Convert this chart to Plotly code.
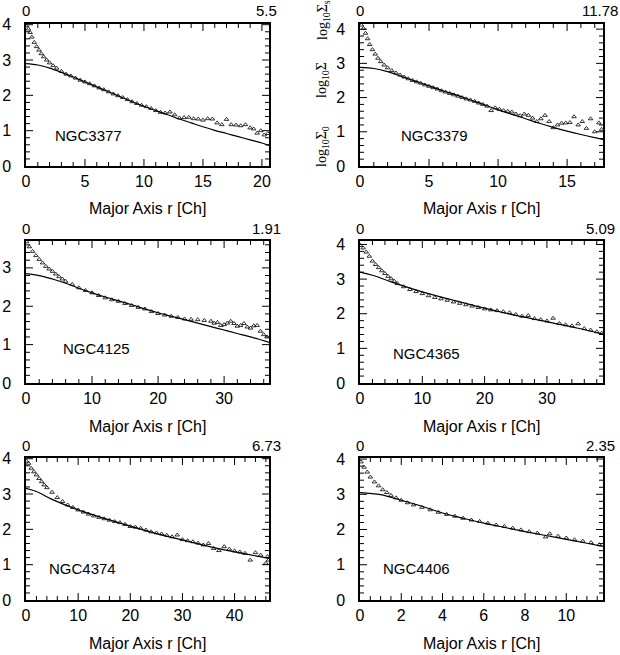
import numpy as np
import plotly.graph_objects as go

names = ["NGC3377", "NGC3379", "NGC4125", "NGC4365", "NGC4374", "NGC4406"]
top_scale = ["5.5", "11.78", "1.91", "5.09", "6.73", "2.35"]
x_max = [20.6, 17.6, 36.8, 39.0, 46.6, 11.78]
y_max = [4.02, 4.15, 3.7, 4.1, 4.02, 4.03]
x_dtick = [5, 5, 10, 10, 10, 2]
x_minor = [1, 1, 2, 2, 2, 0.5]
y_dtick = 1
y_minor = 0.2

# ---- NGC3377 ----
d1_r = [0.05, 0.2, 0.35, 0.5, 0.7, 0.9, 1.1, 1.3, 1.5, 1.75, 2.0, 2.3, 2.6, 3.0, 3.4, 3.8, 4.2, 4.6,
        5.0, 5.4, 5.8, 6.2, 6.6, 7.0, 7.4, 7.8, 8.2, 8.6, 9.0, 9.4, 9.8, 10.2, 10.6, 11.0, 11.4, 11.8,
        12.2, 12.6, 13.0, 13.4, 13.8, 14.2, 14.6, 15.0, 15.4, 15.8, 16.2, 16.6, 17.0, 17.4, 17.8, 18.2,
        18.6, 19.0, 19.3, 19.6, 19.9, 20.2, 20.5]
d1_s = [3.97, 3.88, 3.78, 3.65, 3.5, 3.38, 3.28, 3.18, 3.09, 3.0, 2.92, 2.84, 2.77, 2.68, 2.6, 2.55, 2.49, 2.43,
        2.38, 2.33, 2.27, 2.21, 2.16, 2.1, 2.04, 1.99, 1.94, 1.88, 1.82, 1.77, 1.72, 1.68, 1.63, 1.57, 1.52, 1.5,
        1.53, 1.45, 1.36, 1.37, 1.38, 1.34, 1.33, 1.3, 1.34, 1.33, 1.22, 1.17, 1.32, 1.17, 1.16, 1.14,
        1.17, 1.08, 1.05, 0.93, 1.0, 0.88, 0.92]
m1_r = [0, 1, 2, 3, 4, 5, 6, 7, 8, 9, 10, 11, 12, 13, 14, 15, 16, 17, 18, 19, 20, 20.6]
m1_s = [2.9, 2.86, 2.77, 2.65, 2.52, 2.38, 2.24, 2.1, 1.96, 1.82, 1.69, 1.57, 1.45, 1.33, 1.22, 1.11,
        1.01, 0.92, 0.83, 0.74, 0.65, 0.58]

# ---- NGC3379 ----
d2_r = [0.1, 0.25, 0.4, 0.55, 0.7, 0.9, 1.1, 1.3, 1.5, 1.75, 2.0, 2.3, 2.6, 2.9, 3.2, 3.5, 3.8, 4.1, 4.4,
        4.7, 5.0, 5.3, 5.6, 5.9, 6.2, 6.5, 6.8, 7.1, 7.4, 7.7, 8.0, 8.3, 8.6, 8.9, 9.2, 9.5, 9.8, 10.1,
        10.4, 10.7, 11.0, 11.3, 11.6, 11.9, 12.2, 12.5, 12.8, 13.1, 13.4, 13.7, 14.0, 14.3, 14.6, 14.9,
        15.2, 15.5, 15.8, 16.1, 16.4, 16.7, 17.0, 17.3, 17.5]
d2_s = [4.12, 4.02, 3.88, 3.72, 3.55, 3.4, 3.27, 3.15, 3.05, 2.95, 2.87, 2.79, 2.72, 2.66, 2.6, 2.55, 2.5, 2.46, 2.42,
        2.37, 2.33, 2.29, 2.25, 2.2, 2.16, 2.12, 2.08, 2.04, 2.0, 1.96, 1.93, 1.89, 1.84, 1.8, 1.75, 1.62, 1.7, 1.66,
        1.62, 1.6, 1.58, 1.52, 1.47, 1.52, 1.48, 1.4, 1.3, 1.38, 1.48, 1.3, 1.12, 1.2, 1.25, 1.26,
        1.27, 1.44, 1.2, 1.3, 1.1, 1.38, 1.0, 1.26, 1.07]
m2_r = [0, 1, 2, 3, 4, 5, 6, 7, 8, 9, 10, 11, 12, 13, 14, 15, 16, 17, 17.6]
m2_s = [2.88, 2.85, 2.76, 2.62, 2.48, 2.34, 2.2, 2.07, 1.93, 1.79, 1.64, 1.51, 1.38, 1.25, 1.13, 1.02,
        0.92, 0.83, 0.78]

# ---- NGC4125 ----
d3_r = [0.1, 0.5, 1.0, 1.5, 2.0, 2.5, 3.0, 3.5, 4.0, 4.5, 5.0, 5.5, 6.0, 7.0, 8.0, 9.0, 10.0, 11.0, 12.0,
        13.0, 14.0, 15.0, 16.0, 17.0, 18.0, 19.0, 20.0, 21.0, 22.0, 23.0, 24.0, 25.0, 26.0, 27.0, 28.0,
        28.5, 29.0, 29.5, 30.0, 30.5, 31.0, 31.5, 32.0, 32.5, 33.0, 33.5, 34.0, 34.5, 35.0, 35.5, 36.0, 36.5]
d3_s = [3.68, 3.55, 3.43, 3.32, 3.22, 3.13, 3.04, 2.97, 2.91, 2.84, 2.77, 2.71, 2.65, 2.57, 2.48, 2.41, 2.35, 2.28, 2.22,
        2.17, 2.13, 2.07, 2.02, 1.97, 1.93, 1.86, 1.81, 1.77, 1.74, 1.71, 1.67, 1.66, 1.65, 1.63, 1.61,
        1.56, 1.58, 1.5, 1.52, 1.56, 1.61, 1.55, 1.48, 1.5, 1.55, 1.46, 1.43, 1.49, 1.5, 1.35, 1.26, 1.2]
m3_r = [0, 2, 4, 6, 8, 10, 12, 14, 16, 18, 20, 22, 24, 26, 28, 30, 32, 34, 36.8]
m3_s = [2.85, 2.8, 2.71, 2.6, 2.47, 2.35, 2.24, 2.14, 2.04, 1.93, 1.83, 1.74, 1.65, 1.56, 1.47, 1.38,
        1.29, 1.2, 1.06]

# ---- NGC4365 ----
d4_r = [0.1, 0.5, 1.0, 1.5, 2.0, 2.5, 3.0, 3.5, 4.0, 4.5, 5.0, 5.5, 6.0, 7.0, 8.0, 9.0, 10.0, 11.0, 12.0,
        13.0, 14.0, 15.0, 16.0, 17.0, 18.0, 19.0, 20.0, 21.0, 22.0, 23.0, 24.0, 25.0, 26.0, 27.0, 28.0,
        29.0, 30.0, 31.0, 32.0, 33.0, 34.0, 35.0, 36.0, 37.0, 38.0, 38.8]
d4_s = [3.97, 3.9, 3.78, 3.66, 3.52, 3.42, 3.33, 3.24, 3.16, 3.08, 3.01, 2.94, 2.87, 2.78, 2.7, 2.64, 2.58, 2.52, 2.47,
        2.43, 2.39, 2.34, 2.3, 2.26, 2.22, 2.18, 2.14, 2.11, 2.09, 2.06, 2.03, 1.98, 1.93, 1.95, 1.86,
        1.83, 1.79, 1.87, 1.72, 1.68, 1.65, 1.71, 1.57, 1.53, 1.48, 1.44]
m4_r = [0, 2, 5, 10, 15, 20, 25, 30, 35, 39]
m4_s = [3.2, 3.11, 2.92, 2.63, 2.39, 2.16, 1.95, 1.77, 1.58, 1.41]

# ---- NGC4374 ----
d5_r = [0.1, 0.5, 1.0, 1.5, 2.0, 2.5, 3.0, 3.5, 4.0, 5.0, 6.0, 7.0, 8.0, 9.0, 10.0, 11.0, 12.0, 13.0, 14.0,
        15.0, 16.0, 17.0, 18.0, 19.0, 20.0, 21.0, 22.0, 23.0, 24.0, 25.0, 26.0, 27.0, 28.0, 29.0, 30.0,
        31.0, 32.0, 33.0, 34.0, 35.0, 36.0, 37.0, 38.0, 39.0, 40.0, 41.0, 42.0, 43.0, 44.0, 45.0, 46.0,
        46.3, 46.5]
d5_s = [3.93, 3.87, 3.73, 3.63, 3.54, 3.44, 3.35, 3.26, 3.18, 3.05, 2.9, 2.79, 2.69, 2.62, 2.55, 2.49, 2.43, 2.38, 2.34,
        2.3, 2.26, 2.22, 2.19, 2.14, 2.08, 2.06, 2.03, 1.98, 1.93, 1.9, 1.87, 1.83, 1.79, 1.84, 1.71,
        1.68, 1.65, 1.61, 1.56, 1.6, 1.46, 1.4, 1.51, 1.44, 1.39, 1.36, 1.32, 1.13, 1.34, 1.27, 1.04,
        1.23, 1.13]
m5_r = [0, 2, 5, 10, 15, 20, 25, 30, 35, 40, 46.6]
m5_s = [3.16, 3.07, 2.85, 2.55, 2.31, 2.09, 1.88, 1.7, 1.52, 1.36, 1.18]

# ---- NGC4406 ----
d6_r = [0.05, 0.2, 0.35, 0.5, 0.7, 0.9, 1.1, 1.3, 1.5, 1.75, 2.0, 2.3, 2.6, 3.0, 3.4, 3.8, 4.2, 4.6, 5.0,
        5.4, 5.8, 6.2, 6.6, 7.0, 7.4, 7.8, 8.2, 8.6, 9.0, 9.2, 9.6, 10.0, 10.4, 10.8, 11.2, 11.6]
d6_s = [3.92, 3.77, 3.63, 3.49, 3.35, 3.24, 3.13, 3.05, 2.97, 2.9, 2.83, 2.76, 2.7, 2.63, 2.56, 2.49, 2.43, 2.38, 2.32,
        2.27, 2.23, 2.18, 2.13, 2.09, 2.04, 1.99, 1.94, 1.9, 1.79, 1.88, 1.81, 1.76, 1.71, 1.67, 1.63, 1.57]
m6_r = [0, 1, 2, 3, 4, 5, 6, 7, 8, 9, 10, 11, 11.78]
m6_s = [3.05, 2.99, 2.83, 2.66, 2.47, 2.32, 2.18, 2.06, 1.94, 1.83, 1.72, 1.61, 1.52]

data_r = [d1_r, d2_r, d3_r, d4_r, d5_r, d6_r]
data_s = [d1_s, d2_s, d3_s, d4_s, d5_s, d6_s]
model_r = [m1_r, m2_r, m3_r, m4_r, m5_r, m6_r]
model_s = [m1_s, m2_s, m3_s, m4_s, m5_s, m6_s]

W, H = 620, 655
boxes = [(26, 269, 24, 166), (360, 603, 24, 166),
         (26, 269, 241, 383), (360, 603, 241, 383),
         (26, 269, 458, 600), (360, 603, 458, 600)]
name_pos = [(0.111, 0.218), (0.16, 0.218), (0.144, 0.246), (0.128, 0.21), (0.086, 0.225), (0.086, 0.225)]
MAJOR_LEN, MINOR_LEN = 7, 4

FONT = "Liberation Sans, Arial, Helvetica, sans-serif"
fig = go.Figure()
annotations = []


def is_major(v, step):
    q = v / step
    return abs(q - round(q)) < 1e-6


for i in range(6):
    k = "" if i == 0 else str(i + 1)
    xa, ya = "x" + k, "y" + k
    l, r, t, b = boxes[i]
    pw, ph = r - l, b - t

    # inward tick marks on all four sides, as line segments in the axes' data units
    ypx = y_max[i] / ph
    xpx = x_max[i] / pw
    tx, ty = [], []
    for v in np.arange(0, x_max[i] + 1e-9, x_minor[i]):
        if v <= 0 or v >= x_max[i]:
            continue
        ln = MAJOR_LEN if is_major(v, x_dtick[i]) else MINOR_LEN
        tx += [v, v, None, v, v, None]
        ty += [0, ln * ypx, None, y_max[i], y_max[i] - ln * ypx, None]
    for v in np.arange(0, y_max[i] + 1e-9, y_minor):
        if v <= 0 or v >= y_max[i]:
            continue
        ln = MAJOR_LEN if is_major(v, y_dtick) else MINOR_LEN
        tx += [0, ln * xpx, None, x_max[i], x_max[i] - ln * xpx, None]
        ty += [v, v, None, v, v, None]
    fig.add_trace(go.Scatter(x=tx, y=ty, mode="lines", xaxis=xa, yaxis=ya, connectgaps=False,
                             line=dict(color="black", width=1), showlegend=False, hoverinfo="skip",
                             cliponaxis=False))

    fig.add_trace(go.Scatter(x=model_r[i], y=model_s[i], mode="lines", xaxis=xa, yaxis=ya,
                             line=dict(color="black", width=1.2, shape="spline"), showlegend=False,
                             hoverinfo="skip"))
    fig.add_trace(go.Scatter(x=data_r[i], y=data_s[i], mode="markers", xaxis=xa, yaxis=ya,
                             marker=dict(symbol="triangle-up-open", size=4, color="black",
                                         line=dict(width=0.8, color="black")),
                             showlegend=False))
    annotations.append(dict(text="Major Axis r [Ch]", xref=xa + " domain", yref=ya + " domain",
                            x=0.5, y=-43 / ph, xanchor="center", yanchor="middle", showarrow=False,
                            font=dict(family=FONT, size=16, color="black")))
    annotations.append(dict(text=names[i], xref=xa + " domain", yref=ya + " domain",
                            x=name_pos[i][0], y=name_pos[i][1], xanchor="left", yanchor="middle",
                            showarrow=False, font=dict(family=FONT, size=15, color="black")))
    annotations.append(dict(text="0", xref=xa + " domain", yref=ya + " domain",
                            x=0, y=1 + 13 / ph, xanchor="center", yanchor="middle", showarrow=False,
                            font=dict(family=FONT, size=15, color="black")))
    annotations.append(dict(text=top_scale[i], xref=xa + " domain", yref=ya + " domain",
                            x=1, y=1 + 13 / ph, xanchor="center", yanchor="middle", showarrow=False,
                            xshift=-3, font=dict(family=FONT, size=15, color="black")))

    xkw = dict(domain=[l / W, r / W], range=[0, x_max[i]], anchor=ya, tick0=0, dtick=x_dtick[i],
               showline=True, linecolor="black", linewidth=1.5, mirror=True, ticks="",
               showgrid=False, zeroline=False, automargin=False,
               tickfont=dict(family=FONT, size=16, color="black"))
    ykw = dict(domain=[1 - b / H, 1 - t / H], range=[0, y_max[i]], anchor=xa, tick0=0, dtick=y_dtick,
               showline=True, linecolor="black", linewidth=1.5, mirror=True, ticks="",
               showgrid=False, zeroline=False, automargin=False, ticklabelstandoff=10,
               tickfont=dict(family=FONT, size=16, color="black"))
    fig.update_layout({"xaxis" + k: xkw, "yaxis" + k: ykw})

SERIF = "Liberation Serif, Times New Roman, serif"
for txt, yc in [("log<sub>10</sub>Σ<sub>s</sub>", 20), ("log<sub>10</sub>Σ", 80),
                ("log<sub>10</sub>Σ<sub>0</sub>", 147)]:
    annotations.append(dict(text=txt, xref="paper", yref="paper", x=323 / W, y=1 - yc / H,
                            xanchor="center", yanchor="middle", textangle=-90, showarrow=False,
                            font=dict(family=SERIF, size=14, color="black")))

fig.update_layout(width=W, height=H, margin=dict(l=0, r=0, t=0, b=0),
                  paper_bgcolor="white", plot_bgcolor="white", annotations=annotations,
                  showlegend=False, hovermode=False)
fig.write_html("out.html", config={"displayModeBar": False},
               post_script="document.body.style.margin='0px';")
